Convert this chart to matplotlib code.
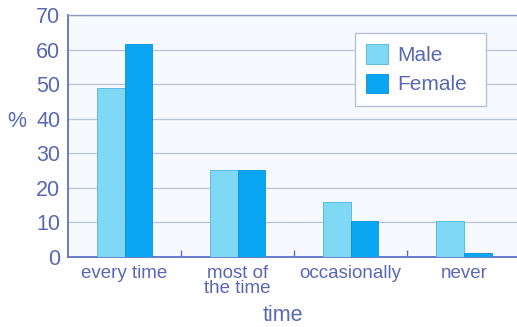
import matplotlib
matplotlib.use("Agg")
import matplotlib.pyplot as plt
import numpy as np

categories = ["every time", "most of\nthe time", "occasionally", "never"]
male = [48.8, 25.3, 15.8, 10.5]
female = [61.6, 25.3, 10.5, 1.2]
series_names = ["Male", "Female"]
yticks = [0, 10, 20, 30, 40, 50, 60, 70]

text_col = "#5a68b4"
spine_col = "#5d72c4"
male_col = "#7fd9f5"
female_col = "#0aa6f2"

plt.rcParams["font.family"] = ["Liberation Sans", "DejaVu Sans"]

fig = plt.figure(figsize=(5.17, 3.27), dpi=100)
ax = fig.add_axes([0.1315, 0.214, 0.875, 0.740])
ax.set_facecolor("#f6f9fd")

x = np.arange(len(categories))
w = 0.245
ax.bar(x - w / 2, male, w, color=male_col, edgecolor="#4fb4e0", linewidth=0.6,
       label=series_names[0], zorder=3)
ax.bar(x + w / 2, female, w, color=female_col, edgecolor="#0890d8", linewidth=0.6,
       label=series_names[1], zorder=3)

ax.set_xlim(-0.5, 3.5)
ax.set_ylim(0, 70)
ax.set_yticks(yticks)
ax.set_xticks(x)
ax.set_xticklabels(categories, linespacing=0.82)
ax.set_xticks([0.5, 1.5, 2.5], minor=True)

ax.tick_params(axis="y", length=0, pad=5.5, labelsize=15.5, labelcolor=text_col)
ax.tick_params(axis="x", which="major", length=0, pad=6, labelsize=13.5,
               labelcolor=text_col)
ax.tick_params(axis="x", which="minor", direction="in", length=5, width=1,
               color=spine_col)

ax.yaxis.grid(True, color="#b9c3da", linewidth=0.9, zorder=0)
ax.set_axisbelow(True)

ax.spines["right"].set_visible(False)
ax.spines["top"].set_color("#8d9ac4")
ax.spines["top"].set_linewidth(1.0)
for side in ("left", "bottom"):
    ax.spines[side].set_color(spine_col)
    ax.spines[side].set_linewidth(1.3)

ax.set_xlabel("time", fontsize=15.5, color=text_col)
ax.xaxis.set_label_coords(0.476, -0.198)
ax.set_ylabel("%", fontsize=15.5, color=text_col, rotation=0, va="center", ha="center")
ax.yaxis.set_label_coords(-0.113, 0.558)

leg = ax.legend(loc="upper left", bbox_to_anchor=(0.634, 0.5, 0.29, 0.426),
                mode="expand", borderaxespad=0,
                frameon=True, fancybox=False, fontsize=15, labelcolor=text_col,
                handlelength=1.05, handleheight=1.05, handletextpad=0.45,
                borderpad=0.55, labelspacing=0.4)
leg.get_frame().set_edgecolor("#b6c0dc")
leg.get_frame().set_facecolor("white")
leg.get_frame().set_linewidth(1.0)
leg.get_frame().set_alpha(1)

fig.savefig("out.png", dpi=100)
